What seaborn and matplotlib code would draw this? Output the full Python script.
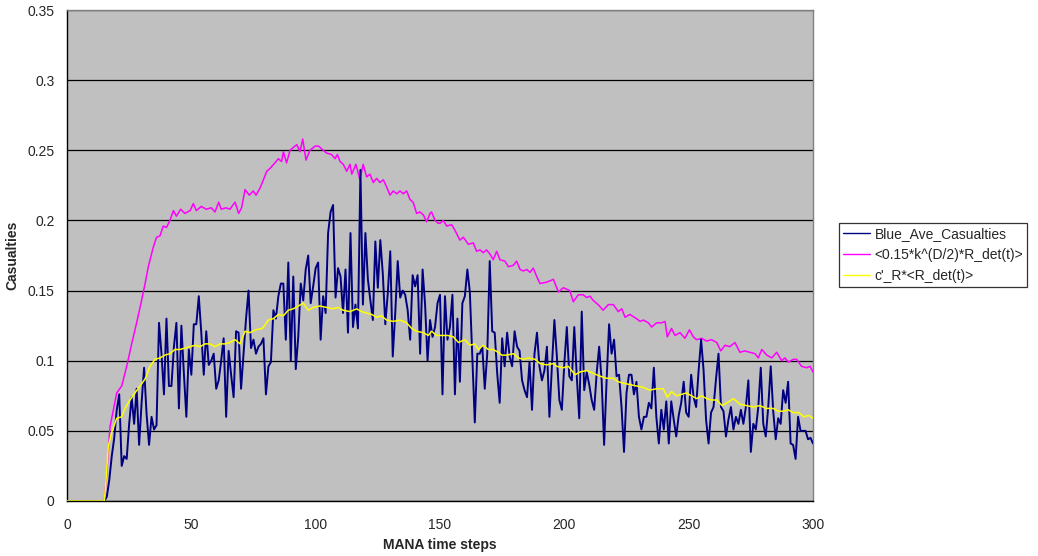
import numpy as np
import pandas as pd
import matplotlib
matplotlib.use("Agg")
import matplotlib.pyplot as plt
import seaborn as sns

# ---------------- data ----------------
blue_values = [
    0, 0, 0, 0, 0, 0, 0, 0, 0, 0,
    0, 0, 0, 0, 0, 0, 0.003, 0.015, 0.032, 0.045,
    0.065, 0.076, 0.025, 0.032, 0.030, 0.055, 0.074, 0.055, 0.080, 0.040,
    0.070, 0.095, 0.062, 0.040, 0.060, 0.051, 0.054, 0.127, 0.105, 0.076,
    0.130, 0.082, 0.082, 0.110, 0.127, 0.066, 0.125, 0.091, 0.060, 0.108,
    0.090, 0.126, 0.126, 0.146, 0.120, 0.090, 0.121, 0.097, 0.100, 0.105,
    0.080, 0.086, 0.100, 0.116, 0.060, 0.107, 0.090, 0.074, 0.121, 0.120,
    0.080, 0.105, 0.130, 0.150, 0.109, 0.115, 0.105, 0.110, 0.112, 0.116,
    0.076, 0.096, 0.099, 0.136, 0.130, 0.146, 0.155, 0.155, 0.115, 0.170,
    0.100, 0.160, 0.094, 0.117, 0.155, 0.143, 0.165, 0.175, 0.141, 0.153,
    0.166, 0.170, 0.115, 0.146, 0.134, 0.191, 0.206, 0.211, 0.145, 0.166,
    0.160, 0.134, 0.165, 0.120, 0.191, 0.124, 0.140, 0.123, 0.236, 0.140,
    0.191, 0.158, 0.143, 0.129, 0.185, 0.152, 0.186, 0.162, 0.126, 0.148,
    0.178, 0.103, 0.134, 0.171, 0.145, 0.150, 0.147, 0.136, 0.115, 0.161,
    0.153, 0.161, 0.105, 0.165, 0.140, 0.100, 0.129, 0.117, 0.124, 0.141,
    0.147, 0.076, 0.146, 0.115, 0.124, 0.147, 0.076, 0.130, 0.085, 0.141,
    0.146, 0.165, 0.149, 0.103, 0.056, 0.105, 0.105, 0.110, 0.080, 0.105,
    0.171, 0.121, 0.120, 0.091, 0.070, 0.116, 0.096, 0.120, 0.103, 0.096,
    0.121, 0.110, 0.107, 0.086, 0.079, 0.074, 0.099, 0.065, 0.105, 0.120,
    0.096, 0.086, 0.093, 0.110, 0.060, 0.096, 0.129, 0.103, 0.072, 0.065,
    0.098, 0.124, 0.089, 0.086, 0.124, 0.089, 0.059, 0.135, 0.079, 0.092,
    0.083, 0.072, 0.065, 0.091, 0.110, 0.086, 0.040, 0.086, 0.126, 0.105,
    0.115, 0.089, 0.090, 0.067, 0.035, 0.077, 0.090, 0.090, 0.076, 0.085,
    0.060, 0.051, 0.060, 0.060, 0.070, 0.066, 0.095, 0.060, 0.041, 0.065,
    0.051, 0.071, 0.041, 0.071, 0.058, 0.046, 0.061, 0.070, 0.085, 0.063,
    0.060, 0.090, 0.074, 0.067, 0.093, 0.115, 0.093, 0.058, 0.041, 0.063,
    0.067, 0.087, 0.105, 0.067, 0.064, 0.046, 0.058, 0.067, 0.051, 0.060,
    0.055, 0.065, 0.055, 0.067, 0.086, 0.035, 0.055, 0.051, 0.067, 0.095,
    0.055, 0.046, 0.067, 0.096, 0.064, 0.044, 0.059, 0.055, 0.079, 0.070,
    0.085, 0.041, 0.040, 0.030, 0.060, 0.050, 0.050, 0.050, 0.044, 0.045,
    0.041,
]
blue_steps = list(range(len(blue_values)))

magenta_steps = [
    0, 15, 16, 17.3, 20, 22, 24, 26, 28, 30, 31.4, 32.7, 34.7, 36, 37.4, 38.7,
    40, 41.4, 42.8, 44, 45.7, 47.4, 49.5, 50.8, 52, 54, 56, 58, 59.5, 61, 62,
    64, 65.5, 67.6, 69, 70.2, 71.6, 73.3, 74.9, 76, 77.6, 79, 80.3, 81.6, 83.6,
    85, 86.3, 87, 88.3, 89.7, 91, 92.4, 93.7, 94.8, 96.1, 97.7, 99.8, 101.1,
    102.4, 104.4, 106.4, 107.8, 108.7, 109.8, 111.1, 112.5, 113.8, 114.5,
    116.2, 117.8, 119.1, 120.5, 121.8, 123.2, 124.5, 125.9, 127.2, 128.5,
    129.9, 131.2, 132.6, 133.9, 135.2, 136.6, 137.9, 139.2, 140.6, 141.9,
    143.3, 144.6, 146, 146.6, 148, 149.3, 150, 151.3, 152.7, 154.7, 156, 158,
    159.4, 161.4, 163.4, 164.7, 166.1, 167.4, 168.7, 170.1, 171.4, 172.8,
    174.1, 176.1, 177.5, 179.5, 180.8, 182.2, 183.5, 184.9, 186.2, 187.5,
    188.9, 190.2, 192.9, 195.6, 197.6, 199.6, 202.2, 203.6, 205.6, 207.6,
    209, 210.3, 211.6, 213.6, 215.6, 217.7, 219.7, 221.7, 223.1, 224.4,
    226.4, 229, 230.5, 231.8, 233.8, 235.1, 237.1, 239.1, 240.5, 241.4,
    243.1, 244.5, 246.5, 248.5, 250.3, 251.9, 253.2, 255.2, 257.2, 259.2,
    261.3, 262.9, 264.6, 266.6, 268.6, 270.6, 272.6, 274.7, 276.7, 278,
    279.4, 281.4, 283.4, 285.4, 287.4, 288.7, 290.1, 292.1, 293.4, 295.4,
    297.4, 298.8, 300,
]
magenta_values = [
    0, 0, 0.020, 0.053, 0.077, 0.082, 0.096, 0.112, 0.127, 0.143, 0.155, 0.167,
    0.181, 0.188, 0.189, 0.196, 0.195, 0.200, 0.207, 0.203, 0.208, 0.205,
    0.207, 0.212, 0.207, 0.210, 0.208, 0.209, 0.206, 0.213, 0.208, 0.209,
    0.208, 0.213, 0.205, 0.209, 0.222, 0.218, 0.221, 0.218, 0.223, 0.229,
    0.235, 0.237, 0.241, 0.244, 0.242, 0.249, 0.241, 0.250, 0.252, 0.254,
    0.249, 0.258, 0.243, 0.250, 0.253, 0.253, 0.251, 0.248, 0.247, 0.244,
    0.247, 0.242, 0.240, 0.235, 0.240, 0.233, 0.240, 0.229, 0.240, 0.231,
    0.233, 0.227, 0.230, 0.227, 0.229, 0.224, 0.218, 0.221, 0.219, 0.221,
    0.219, 0.221, 0.215, 0.213, 0.205, 0.206, 0.204, 0.199, 0.205, 0.206,
    0.200, 0.198, 0.198, 0.200, 0.196, 0.197, 0.193, 0.186, 0.188, 0.183,
    0.184, 0.178, 0.179, 0.177, 0.179, 0.176, 0.172, 0.178, 0.172, 0.171,
    0.167, 0.168, 0.171, 0.165, 0.164, 0.165, 0.163, 0.166, 0.160, 0.155,
    0.156, 0.158, 0.149, 0.152, 0.150, 0.142, 0.147, 0.147, 0.145, 0.146,
    0.143, 0.140, 0.136, 0.140, 0.140, 0.135, 0.137, 0.131, 0.133, 0.130,
    0.128, 0.129, 0.127, 0.124, 0.127, 0.127, 0.128, 0.117, 0.123, 0.118,
    0.120, 0.116, 0.122, 0.117, 0.115, 0.116, 0.114, 0.115, 0.113, 0.107,
    0.111, 0.110, 0.113, 0.106, 0.107, 0.106, 0.105, 0.102, 0.108, 0.104,
    0.102, 0.106, 0.100, 0.102, 0.099, 0.101, 0.101, 0.096, 0.095, 0.096,
    0.092,
]

yellow_steps = [
    0, 15, 15.5, 16.6, 18, 20, 22, 23.3, 25.3, 27.3, 29.4, 31.4, 33.4, 35.4,
    37.4, 39.4, 41.4, 43.4, 45.4, 47.4, 49.5, 51.5, 53.5, 55.5, 57.5, 59.5,
    61.5, 63.5, 65.5, 67.6, 69.6, 71.6, 73.6, 75.9, 78.5, 79, 81, 83, 85, 87,
    89, 91, 93, 95, 97, 99, 101.7, 104.4, 107, 109, 111, 113.8, 116.5, 118.5,
    120.5, 122.5, 124.5, 126.5, 128.5, 131.2, 133.9, 136.6, 138.6, 140.6,
    143.3, 145.3, 146.6, 148.7, 151.3, 153, 155.4, 157.4, 160, 162, 164,
    165.4, 167.4, 169.4, 171.4, 173.4, 174.8, 176.8, 179.5, 181.5, 183.5,
    185.5, 188.2, 190.2, 192.9, 195.6, 196.9, 199.6, 201.6, 204.3, 206.3,
    209, 211.7, 214.3, 217, 219.7, 221.7, 223.7, 226.4, 229, 231.7, 234.4,
    237.1, 239.8, 241.4, 243.1, 245.1, 247.1, 249.1, 251.1, 253.2, 255.2,
    257.2, 259.2, 261.3, 263.4, 265.4, 268, 270.6, 273.3, 276, 278.6, 281.3,
    284, 286, 288, 290, 292, 294.3, 296.3, 298.3, 300,
]
yellow_values = [
    0, 0, 0.010, 0.039, 0.049, 0.059, 0.060, 0.066, 0.072, 0.077, 0.082,
    0.087, 0.096, 0.101, 0.102, 0.104, 0.105, 0.108, 0.108, 0.109, 0.110,
    0.111, 0.110, 0.112, 0.112, 0.110, 0.112, 0.112, 0.113, 0.115, 0.112,
    0.121, 0.120, 0.122, 0.123, 0.124, 0.129, 0.130, 0.133, 0.132, 0.136,
    0.137, 0.139, 0.141, 0.136, 0.138, 0.139, 0.138, 0.137, 0.138, 0.136,
    0.135, 0.137, 0.135, 0.134, 0.133, 0.131, 0.132, 0.129, 0.128, 0.129,
    0.127, 0.123, 0.121, 0.120, 0.118, 0.121, 0.118, 0.118, 0.118, 0.117,
    0.113, 0.115, 0.111, 0.112, 0.108, 0.111, 0.108, 0.108, 0.106, 0.104,
    0.104, 0.105, 0.102, 0.101, 0.102, 0.101, 0.098, 0.097, 0.098, 0.096,
    0.095, 0.096, 0.090, 0.092, 0.093, 0.091, 0.089, 0.0875, 0.0875, 0.085,
    0.084, 0.083, 0.082, 0.081, 0.079, 0.080, 0.080, 0.074, 0.078, 0.075,
    0.076, 0.077, 0.075, 0.073, 0.075, 0.073, 0.072, 0.072, 0.068, 0.070,
    0.073, 0.069, 0.068, 0.067, 0.068, 0.066, 0.066, 0.064, 0.064, 0.065,
    0.063, 0.063, 0.060, 0.061, 0.059,
]

series_names = ["Blue_Ave_Casualties", "<0.15*k^(D/2)*R_det(t)>", "c'_R*<R_det(t)>"]
series_colors = ["#000080", "#FF00FF", "#FFFF00"]
x_ticks = [0, 50, 100, 150, 200, 250, 300]
y_ticks = [0, 0.05, 0.1, 0.15, 0.2, 0.25, 0.3, 0.35]
y_tick_labels = ["0", "0.05", "0.1", "0.15", "0.2", "0.25", "0.3", "0.35"]
x_title = "MANA time steps"
y_title = "Casualties"

# ---------------- plot ----------------
sns.set_style("white")
plt.rcParams["font.family"] = ["Liberation Sans", "DejaVu Sans"]

FS = 10

fig = plt.figure(figsize=(10.38, 5.56), dpi=100)
ax = fig.add_axes([67 / 1038, 1 - 501 / 556, (813 - 67) / 1038, (501 - 10) / 556])
ax.set_facecolor("#C0C0C0")

df_blue = pd.DataFrame({"t": blue_steps, "v": blue_values})
df_mag = pd.DataFrame({"t": magenta_steps, "v": magenta_values})
df_yel = pd.DataFrame({"t": yellow_steps, "v": yellow_values})

sns.lineplot(data=df_blue, x="t", y="v", ax=ax, color=series_colors[0],
             linewidth=1.4, label=series_names[0], zorder=5)
sns.lineplot(data=df_mag, x="t", y="v", ax=ax, color=series_colors[1],
             linewidth=1.1, label=series_names[1], zorder=4)
sns.lineplot(data=df_yel, x="t", y="v", ax=ax, color=series_colors[2],
             linewidth=1.1, label=series_names[2], zorder=6)

ax.set_xlim(0, 300)
ax.set_ylim(0, 0.35)
ax.set_xticks(x_ticks)
ax.set_xticklabels([str(v) for v in x_ticks])
ax.set_yticks(y_ticks)
ax.set_yticklabels(y_tick_labels)
ax.yaxis.grid(True, color="black", linewidth=0.9)
ax.set_axisbelow(True)
ax.tick_params(axis="both", direction="out", length=6, width=0.9,
               color="black", labelsize=FS, pad=3)
ax.tick_params(axis="x", pad=6)

for side in ["left", "bottom"]:
    ax.spines[side].set_color("black")
    ax.spines[side].set_linewidth(1.0)
for side in ["top", "right"]:
    ax.spines[side].set_visible(True)
    ax.spines[side].set_color("#808080")
    ax.spines[side].set_linewidth(1.0)

ax.set_xlabel(x_title, fontsize=FS, fontweight="bold")
ax.set_ylabel(y_title, fontsize=FS, fontweight="bold")
ax.xaxis.set_label_coords(0.5, (501 - 538) / 491)
ax.yaxis.set_label_coords((19 - 67) / 746, 0.5)

ax.get_legend().remove()
handles, labels = ax.get_legend_handles_labels()
leg = fig.legend(handles, labels, loc="upper left",
                 bbox_to_anchor=(839 / 1038, 1 - 223 / 556),
                 frameon=True, fancybox=False, fontsize=FS,
                 handlelength=1.9, handletextpad=0.35, borderpad=0.3,
                 labelspacing=0.5, borderaxespad=0)
leg.get_frame().set_edgecolor("black")
leg.get_frame().set_linewidth(0.9)
for line in leg.get_lines():
    line.set_linewidth(1.0)

fig.savefig("out.png", dpi=100, facecolor="white")
